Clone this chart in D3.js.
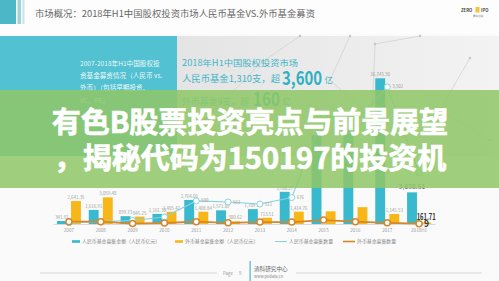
<!DOCTYPE html>
<html>
<head>
<meta charset="utf-8">
<script src="https://cdn.jsdelivr.net/npm/d3@7"></script>
<style>
  body { margin: 0; background: #fff; overflow: hidden; }
  svg { display: block; }
  text { font-family: "Noto Sans CJK SC", "Noto Sans", sans-serif; }
</style>
</head>
<body>
<svg id="chart" width="499" height="281"></svg>
<script>
// data
const years = ["2007", "2008", "2009", "2010", "2011", "2012", "2013", "2014", "2015", "2016", "2017", "2018H1"];
const rmbAmount = [341.92, 1616.91, 899.73, 1161.3, 2764.6, 1571.09, 1709.15, 3700.27, 10200, 10900, 16745.3, 3638.51];
const fxAmount = [2641.35, 3059.48, 845.25, 1405.42, 1408.84, 300.62, 713.51, 1414.76, 1456.69, 1936.07, 1145.53, 161.71];
const rmbCount = [35, 60, 90, 180, 590, 561, 511, 676, 2785, 2600, 3502, 1310];
const fxCount = [60, 60, 10, 25, 60, 30, 50, 50, 100, 60, 30, 9];
const countLabelYears = ["2011", "2012", "2013", "2014", "2017"];
const hiddenLabelYears = ["2015", "2016"];
const legendNames = ["人民币基金募集金额（人民币亿元）", "外币基金募集金额（人民币亿元）", "人民币基金募集数量", "外币基金募集数量"];
const panelLines = ["2007-2018年H1中国股权投", "资基金募资情况（人民币 vs.", "外币）（包括早期投资、", "VC、PE）"];
const headline = ["有色B股票投资亮点与前景展望", "，揭秘代码为150197的投资机"];

const teal = "#38b9cd", yellow = "#f7b719", lightTeal = "#86d3de", orange = "#d6872c";

const svg = d3.select("#chart");
const fmt = d3.format(",.2f");

// background
svg.append("rect").attr("width", 499).attr("height", 281).attr("fill", "#fafafa");
svg.append("rect").attr("width", 499).attr("height", 34).attr("fill", "#fdfdfd");

// header
svg.append("rect").attr("x", 0).attr("y", 0).attr("width", 16).attr("height", 24).attr("fill", "#4cb7c6");
svg.append("rect").attr("x", 17.5).attr("y", 0).attr("width", 3.5).attr("height", 24).attr("fill", "#9fd3dc");
svg.append("rect").attr("x", 22.5).attr("y", 0).attr("width", 2).attr("height", 24).attr("fill", "#c9e4e8");
svg.append("text").attr("x", 35).attr("y", 17).attr("font-size", 8.6).attr("fill", "#666")
  .attr("textLength", 280).attr("lengthAdjust", "spacingAndGlyphs")
  .text("市场概况：2018年H1中国股权投资市场人民币基金VS.外币基金募资");
svg.append("text").attr("x", 461).attr("y", 12).attr("font-size", 4.2).attr("font-weight", "bold").attr("fill", "#444").text("ZERO");
svg.append("rect").attr("x", 475.5).attr("y", 7).attr("width", 4).attr("height", 5.5).attr("fill", "#f3c43d");
svg.append("text").attr("x", 481).attr("y", 12).attr("font-size", 4.2).attr("font-weight", "bold").attr("fill", "#444").text("IPO");
svg.append("text").attr("x", 478).attr("y", 17).attr("font-size", 2.8).attr("text-anchor", "middle").attr("fill", "#888").text("清科创投");

// top panels
const grad = svg.append("defs").append("linearGradient").attr("id", "gp");
grad.append("stop").attr("offset", "0%").attr("stop-color", "#e4e4e4");
grad.append("stop").attr("offset", "100%").attr("stop-color", "#f3f3f3");
svg.append("rect").attr("x", 177).attr("y", 36).attr("width", 322).attr("height", 120).attr("fill", "url(#gp)");
svg.append("rect").attr("x", 0).attr("y", 36).attr("width", 177).attr("height", 120).attr("fill", "#52c1d1");

// faint network lines on the grey panel
const net = [[[205, 120], [262, 62], [300, 36]], [[350, 36], [330, 80], [372, 118]], [[372, 118], [375, 44], [420, 36]], [[470, 58], [440, 110], [490, 140]]];
net.forEach((pts) => {
  svg.append("path").attr("d", d3.line()(pts)).attr("fill", "none").attr("stroke", "#cfcfcf").attr("stroke-width", 0.7);
  pts.forEach((p) => svg.append("circle").attr("cx", p[0]).attr("cy", p[1]).attr("r", 1.2).attr("fill", "#c4c4c4"));
});

panelLines.forEach((t, i) => {
  svg.append("text").attr("x", 80).attr("y", 66 + i * 12.2).attr("font-size", 6.6)
    .attr("fill", "#fff").attr("fill-opacity", 0.92).text(t);
});

svg.append("text").attr("x", 182).attr("y", 65.5).attr("font-size", 8.4).attr("fill", "#3db5c6")
  .attr("textLength", 116).attr("lengthAdjust", "spacingAndGlyphs").text("2018年H1中国股权投资市场");
svg.append("text").attr("x", 182).attr("y", 82).attr("font-size", 8.8).attr("fill", "#3db5c6")
  .attr("textLength", 98).attr("lengthAdjust", "spacingAndGlyphs").text("人民币基金1,310支，超");
svg.append("text").attr("x", 282).attr("y", 85).attr("font-size", 19).attr("font-weight", "bold").attr("fill", "#2fb0c3")
  .attr("textLength", 40).attr("lengthAdjust", "spacingAndGlyphs").text("3,600");
svg.append("text").attr("x", 324.5).attr("y", 83).attr("font-size", 8.5).attr("fill", "#3db5c6").text("亿");
svg.append("text").attr("x", 182).attr("y", 105).attr("font-size", 8.8).attr("fill", "#3db5c6")
  .attr("textLength", 67).attr("lengthAdjust", "spacingAndGlyphs").text("外币基金9支，超");
svg.append("text").attr("x", 253).attr("y", 106).attr("font-size", 19).attr("font-weight", "bold").attr("fill", "#2fb0c3")
  .attr("textLength", 27).attr("lengthAdjust", "spacingAndGlyphs").text("160");
svg.append("text").attr("x", 282.5).attr("y", 104).attr("font-size", 8.5).attr("fill", "#3db5c6").text("亿");

// scales
const x = d3.scaleBand().domain(years).range([53, 435]).padding(0);
const cx = (d) => x(d) + x.bandwidth() / 2;
const xs = d3.scaleBand().domain(["rmb", "fx"]).range([-12, 12]).paddingInner(0.3);
const yAmt = d3.scaleLinear().domain([0, 20000]).range([224, 50]);
const yCnt = d3.scaleLinear().domain([0, 4000]).range([224, 67.5]);

const rows = years.map((y, i) => ({ year: y, rmb: rmbAmount[i], fx: fxAmount[i], rc: rmbCount[i], fc: fxCount[i] }));
const last = years[years.length - 1];

// axis
const axis = svg.append("g").attr("transform", "translate(0,224)")
  .call(d3.axisBottom(x).tickSize(0).tickPadding(5));
axis.select(".domain").attr("stroke", "#d0d0d0").attr("stroke-width", 0.8);
axis.selectAll("text").attr("font-size", 4.6).attr("fill", "#9a9a9a")
  .style("font-family", '"Noto Sans CJK SC", sans-serif');

// bars
const bars = svg.append("g");
bars.selectAll(".rmb").data(rows).join("rect")
  .attr("x", (d) => cx(d.year) + xs("rmb")).attr("width", xs.bandwidth())
  .attr("y", (d) => yAmt(d.rmb)).attr("height", (d) => 224 - yAmt(d.rmb)).attr("fill", teal);
bars.selectAll(".fx").data(rows).join("rect")
  .attr("x", (d) => cx(d.year) + xs("fx")).attr("width", xs.bandwidth())
  .attr("y", (d) => yAmt(d.fx)).attr("height", (d) => 224 - yAmt(d.fx)).attr("fill", yellow);

// bar value labels
const labels = svg.append("g").attr("text-anchor", "middle");
rows.filter((d) => !hiddenLabelYears.includes(d.year)).forEach((d) => {
  const big = d.year === last;
  labels.append("text")
    .attr("x", cx(d.year) + xs("rmb") + xs.bandwidth() / 2).attr("y", yAmt(d.rmb) - (big ? 3 : 2))
    .attr("font-size", big ? 6.8 : 4.4).attr("fill", big ? "#555" : "#9a9a9a").text(fmt(d.rmb));
  const t = labels.append("text")
    .attr("x", cx(d.year) + xs("fx") + xs.bandwidth() / 2).attr("y", yAmt(d.fx) - (big ? 3 : 2))
    .attr("font-size", big ? 8.5 : 4.4).attr("font-weight", big ? "bold" : null)
    .attr("fill", big ? "#333" : "#9a9a9a").text(fmt(d.fx));
  if (big) t.attr("textLength", 19).attr("lengthAdjust", "spacingAndGlyphs");
});

// count lines
const lineR = d3.line().x((d) => cx(d.year)).y((d) => yCnt(d.rc));
const lineF = d3.line().x((d) => cx(d.year)).y((d) => yCnt(d.fc));
svg.append("path").datum(rows).attr("d", lineR).attr("fill", "none").attr("stroke", lightTeal).attr("stroke-width", 1.1);
svg.append("path").datum(rows).attr("d", lineF).attr("fill", "none").attr("stroke", orange).attr("stroke-width", 1.8);
svg.append("g").selectAll("circle").data(rows).join("circle")
  .attr("cx", (d) => cx(d.year)).attr("cy", (d) => yCnt(d.rc)).attr("r", 3)
  .attr("fill", "#fff").attr("stroke", lightTeal).attr("stroke-width", 1);
svg.append("g").selectAll("circle").data(rows).join("circle")
  .attr("cx", (d) => cx(d.year)).attr("cy", (d) => yCnt(d.fc)).attr("r", 3)
  .attr("fill", "#fff").attr("stroke", orange).attr("stroke-width", 1.5);

rows.filter((d) => countLabelYears.includes(d.year)).forEach((d) => {
  svg.append("text").attr("x", cx(d.year) + 5).attr("y", yCnt(d.rc) + 1.5)
    .attr("font-size", 4.4).attr("fill", "#9a9a9a").text(d3.format(",")(d.rc));
});
const lr = rows[rows.length - 1];
svg.append("text").attr("x", cx(lr.year) + 5).attr("y", yCnt(lr.fc) + 3)
  .attr("font-size", 8.5).attr("font-weight", "bold").attr("fill", "#333").text(lr.fc);

// legend
const legendX = [72, 175, 275, 343];
const legendColors = [teal, yellow, lightTeal, orange];
legendNames.forEach((name, i) => {
  const g = svg.append("g").attr("transform", `translate(${legendX[i]},242)`);
  if (i < 2) {
    g.append("rect").attr("x", 0).attr("y", -1.8).attr("width", 8).attr("height", 2.6).attr("fill", legendColors[i]);
  } else {
    g.append("line").attr("x1", 0).attr("x2", 12).attr("y1", -0.5).attr("y2", -0.5)
      .attr("stroke", legendColors[i]).attr("stroke-width", i === 3 ? 1.6 : 1);
  }
  g.append("text").attr("x", i < 2 ? 10 : 14).attr("y", 1.3).attr("font-size", 4.9).attr("fill", "#888").text(name);
});

// footer
svg.append("line").attr("x1", 40).attr("x2", 217).attr("y1", 273).attr("y2", 273).attr("stroke", "#c8c8c8").attr("stroke-width", 0.7);
svg.append("line").attr("x1", 296).attr("x2", 482).attr("y1", 273).attr("y2", 273).attr("stroke", "#c8c8c8").attr("stroke-width", 0.7);
svg.append("text").attr("x", 223).attr("y", 275).attr("font-size", 4.4).attr("fill", "#999").text("Page");
svg.append("text").attr("x", 239).attr("y", 275).attr("font-size", 4.4).attr("fill", "#999").text("9");
svg.append("rect").attr("x", 249.5).attr("y", 261).attr("width", 1.2).attr("height", 20).attr("fill", "#4cb7c6");
svg.append("text").attr("x", 254).attr("y", 270.5).attr("font-size", 5.6).attr("fill", "#666").text("清科研究中心");
svg.append("text").attr("x", 254).attr("y", 277.5).attr("font-size", 4).attr("fill", "#888").text("www.pedata.cn");

// green overlay with headline
svg.append("rect").attr("x", 0).attr("y", 90).attr("width", 499).attr("height", 98)
  .attr("fill", "#8fc766").attr("fill-opacity", 0.86);
headline.forEach((t, i) => {
  svg.append("text").attr("x", 250).attr("y", 133 + i * 36).attr("text-anchor", "middle")
    .attr("font-size", 29).attr("font-weight", "bold").attr("fill", "#fff")
    .attr("stroke", "#fff").attr("stroke-width", 0.7).text(t);
});
</script>
</body>
</html>
